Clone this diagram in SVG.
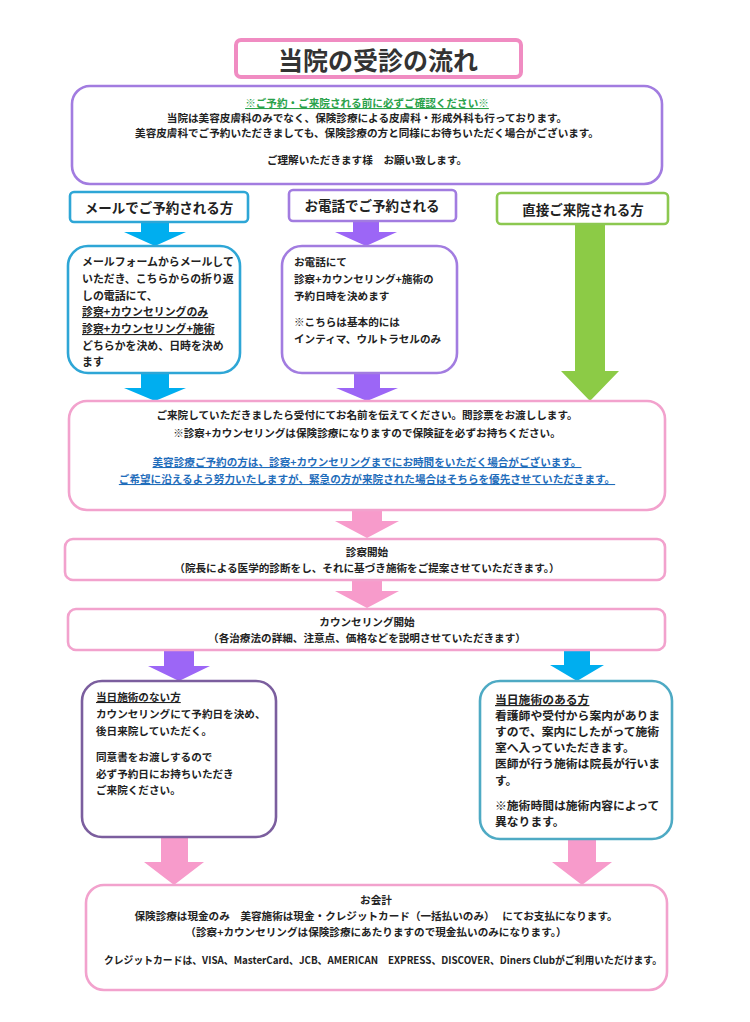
<svg xmlns="http://www.w3.org/2000/svg" width="750" height="1022" viewBox="0 0 750 1022">
<style>
text{font-family:"Noto Sans CJK JP","Noto Sans CJK SC",sans-serif;font-weight:bold;fill:#222;}
.t{font-size:10.6px;}
.m{font-size:10.9px;}
.r{font-size:11.8px;}
.c{text-anchor:middle;}
.h{font-size:13.5px;text-anchor:middle;}
.u{text-decoration:underline;}
.box{fill:#fff;stroke-width:2.6;}
.pk{stroke:#f2a2cd;}
.pu{stroke:#a27ce0;}
.bl{stroke:#2ea6d6;}
.gr{stroke:#8cc850;}
.dp{stroke:#7b5e9e;}
.tl{stroke:#4eaac4;}
.aB{fill:#00aeef;}
.aP{fill:#9c66f6;}
.aG{fill:#8ccb46;}
.aK{fill:#f79bcb;}
</style>
<rect width="750" height="1022" fill="#fff"/>
<g id="connectors">
<path class="aB" d="M141,222H169V232H186L155,246L124,232H141Z"/>
<path class="aP" d="M353,221H379V232H397L366,246L335,232H353Z"/>
<path class="aG" d="M575,224H605V371H619L590,401L561,371H575Z"/>
<path class="aB" d="M141,374H169V388H186L155,401L124,388H141Z"/>
<path class="aP" d="M354,374H380V388H398L367,401L336,388H354Z"/>
<path class="aK" d="M352,511H382V521H399L367,538L335,521H352Z"/>
<path class="aK" d="M352,581H382V591H399L367,608L335,591H352Z"/>
<path class="aP" d="M164,651H194V666H210L179,681L148,666H164Z"/>
<path class="aB" d="M564,651H590V665H604L577,681L550,665H564Z"/>
<path class="aK" d="M161,838H188V862H204L174,885L144,862H161Z"/>
<path class="aK" d="M568,840H596V862H612L582,885L552,862H568Z"/>
</g>
<g id="title">
<rect x="236" y="40" width="285" height="37" rx="5" fill="#fff" stroke="#f08cc2" stroke-width="4"/>
<text x="378" y="70" style="font-size:25px;fill:#333" class="c">当院の受診の流れ</text>
</g>
<g id="notice">
<rect class="box pu" x="72" y="86" width="590" height="98" rx="18"/>
<text class="t c u" x="367" y="107" style="fill:#2aa24a">※ご予約・ご来院される前に必ずご確認ください※</text>
<text class="t c" x="367" y="122">当院は美容皮膚科のみでなく、保険診療による皮膚科・形成外科も行っております。</text>
<text class="t c" x="367" y="137">美容皮膚科でご予約いただきましても、保険診療の方と同様にお待ちいただく場合がございます。</text>
<text class="t c" x="367" y="164">ご理解いただきます様　お願い致します。</text>
</g>
<g id="head-mail">
<rect class="box bl" x="70" y="192" width="178" height="30" rx="4"/>
<text class="h" x="159" y="213">メールでご予約される方</text>
</g>
<g id="head-phone">
<rect class="box pu" x="289" y="190" width="167" height="31" rx="4"/>
<text class="h" x="372" y="211">お電話でご予約される</text>
</g>
<g id="head-direct">
<rect class="box gr" x="497" y="193" width="171" height="31" rx="4"/>
<text class="h" x="583" y="215">直接ご来院される方</text>
</g>
<g id="mail">
<rect class="box bl" x="68" y="246" width="172" height="127" rx="20"/>
<text class="m" x="82" y="266">メールフォームからメールして</text>
<text class="m" x="82" y="283">いただき、こちらからの折り返</text>
<text class="m" x="82" y="300">しの電話にて、</text>
<text class="m u" x="82" y="316">診察+カウンセリングのみ</text>
<text class="m u" x="82" y="333">診察+カウンセリング+施術</text>
<text class="m" x="82" y="350">どちらかを決め、日時を決め</text>
<text class="m" x="82" y="366">ます</text>
</g>
<g id="phone">
<rect class="box pu" x="282" y="246" width="175" height="127" rx="20"/>
<text class="t" x="294" y="266">お電話にて</text>
<text class="t" x="294" y="283">診察+カウンセリング+施術の</text>
<text class="t" x="294" y="300">予約日時を決めます</text>
<text class="t" x="294" y="326">※こちらは基本的には</text>
<text class="t" x="294" y="343">インティマ、ウルトラセルのみ</text>
</g>
<g id="reception">
<rect class="box pk" x="69" y="401" width="596" height="109" rx="18"/>
<text class="t c" x="367" y="419">ご来院していただきましたら受付にてお名前を伝えてください。問診票をお渡しします。</text>
<text class="t c" x="367" y="437">※診察+カウンセリングは保険診療になりますので保険証を必ずお持ちください。</text>
<text class="t c u" x="367" y="466" style="fill:#1f6dbb">美容診療ご予約の方は、診察+カウンセリングまでにお時間をいただく場合がございます。</text>
<text class="t c u" x="367" y="483" style="fill:#1f6dbb">ご希望に沿えるよう努力いたしますが、緊急の方が来院された場合はそちらを優先させていただきます。</text>
</g>
<g id="exam">
<rect class="box pk" x="65" y="539" width="600" height="41" rx="8"/>
<text class="t c" x="367" y="556">診察開始</text>
<text class="t c" x="367" y="572">（院長による医学的診断をし、それに基づき施術をご提案させていただきます。）</text>
</g>
<g id="counsel">
<rect class="box pk" x="68" y="609" width="597" height="41" rx="8"/>
<text class="t c" x="367" y="626">カウンセリング開始</text>
<text class="t c" x="367" y="642">（各治療法の詳細、注意点、価格などを説明させていただきます）</text>
</g>
<g id="no-treat">
<rect class="box dp" x="82" y="681" width="194" height="156" rx="20"/>
<text class="t u" x="96" y="701">当日施術のない方</text>
<text class="t" x="96" y="718">カウンセリングにて予約日を決め、</text>
<text class="t" x="96" y="735">後日来院していただく。</text>
<text class="t" x="96" y="761">同意書をお渡しするので</text>
<text class="t" x="96" y="778">必ず予約日にお持ちいただき</text>
<text class="t" x="96" y="794">ご来院ください。</text>
</g>
<g id="treat">
<rect class="box tl" x="480" y="681" width="192" height="158" rx="20"/>
<text class="r u" x="495" y="704">当日施術のある方</text>
<text class="r" x="495" y="720">看護師や受付から案内がありま</text>
<text class="r" x="495" y="736">すので、案内にしたがって施術</text>
<text class="r" x="495" y="752">室へ入っていただきます。</text>
<text class="r" x="495" y="768">医師が行う施術は院長が行いま</text>
<text class="r" x="495" y="785">す。</text>
<text class="r" x="495" y="810">※施術時間は施術内容によって</text>
<text class="r" x="495" y="826">異なります。</text>
</g>
<g id="payment">
<rect class="box pk" x="86" y="885" width="581" height="105" rx="18"/>
<text class="t c" x="376" y="904">お会計</text>
<text class="t c" x="376" y="920">保険診療は現金のみ　美容施術は現金・クレジットカード（一括払いのみ）　 にてお支払になります。</text>
<text class="t c" x="376" y="936">（診察+カウンセリングは保険診療にあたりますので現金払いのみになります。）</text>
<text class="t" x="104" y="964" textLength="558" lengthAdjust="spacingAndGlyphs">クレジットカードは、VISA、MasterCard、JCB、AMERICAN　EXPRESS、DISCOVER、Diners Clubがご利用いただけます。</text>
</g>
</svg>
